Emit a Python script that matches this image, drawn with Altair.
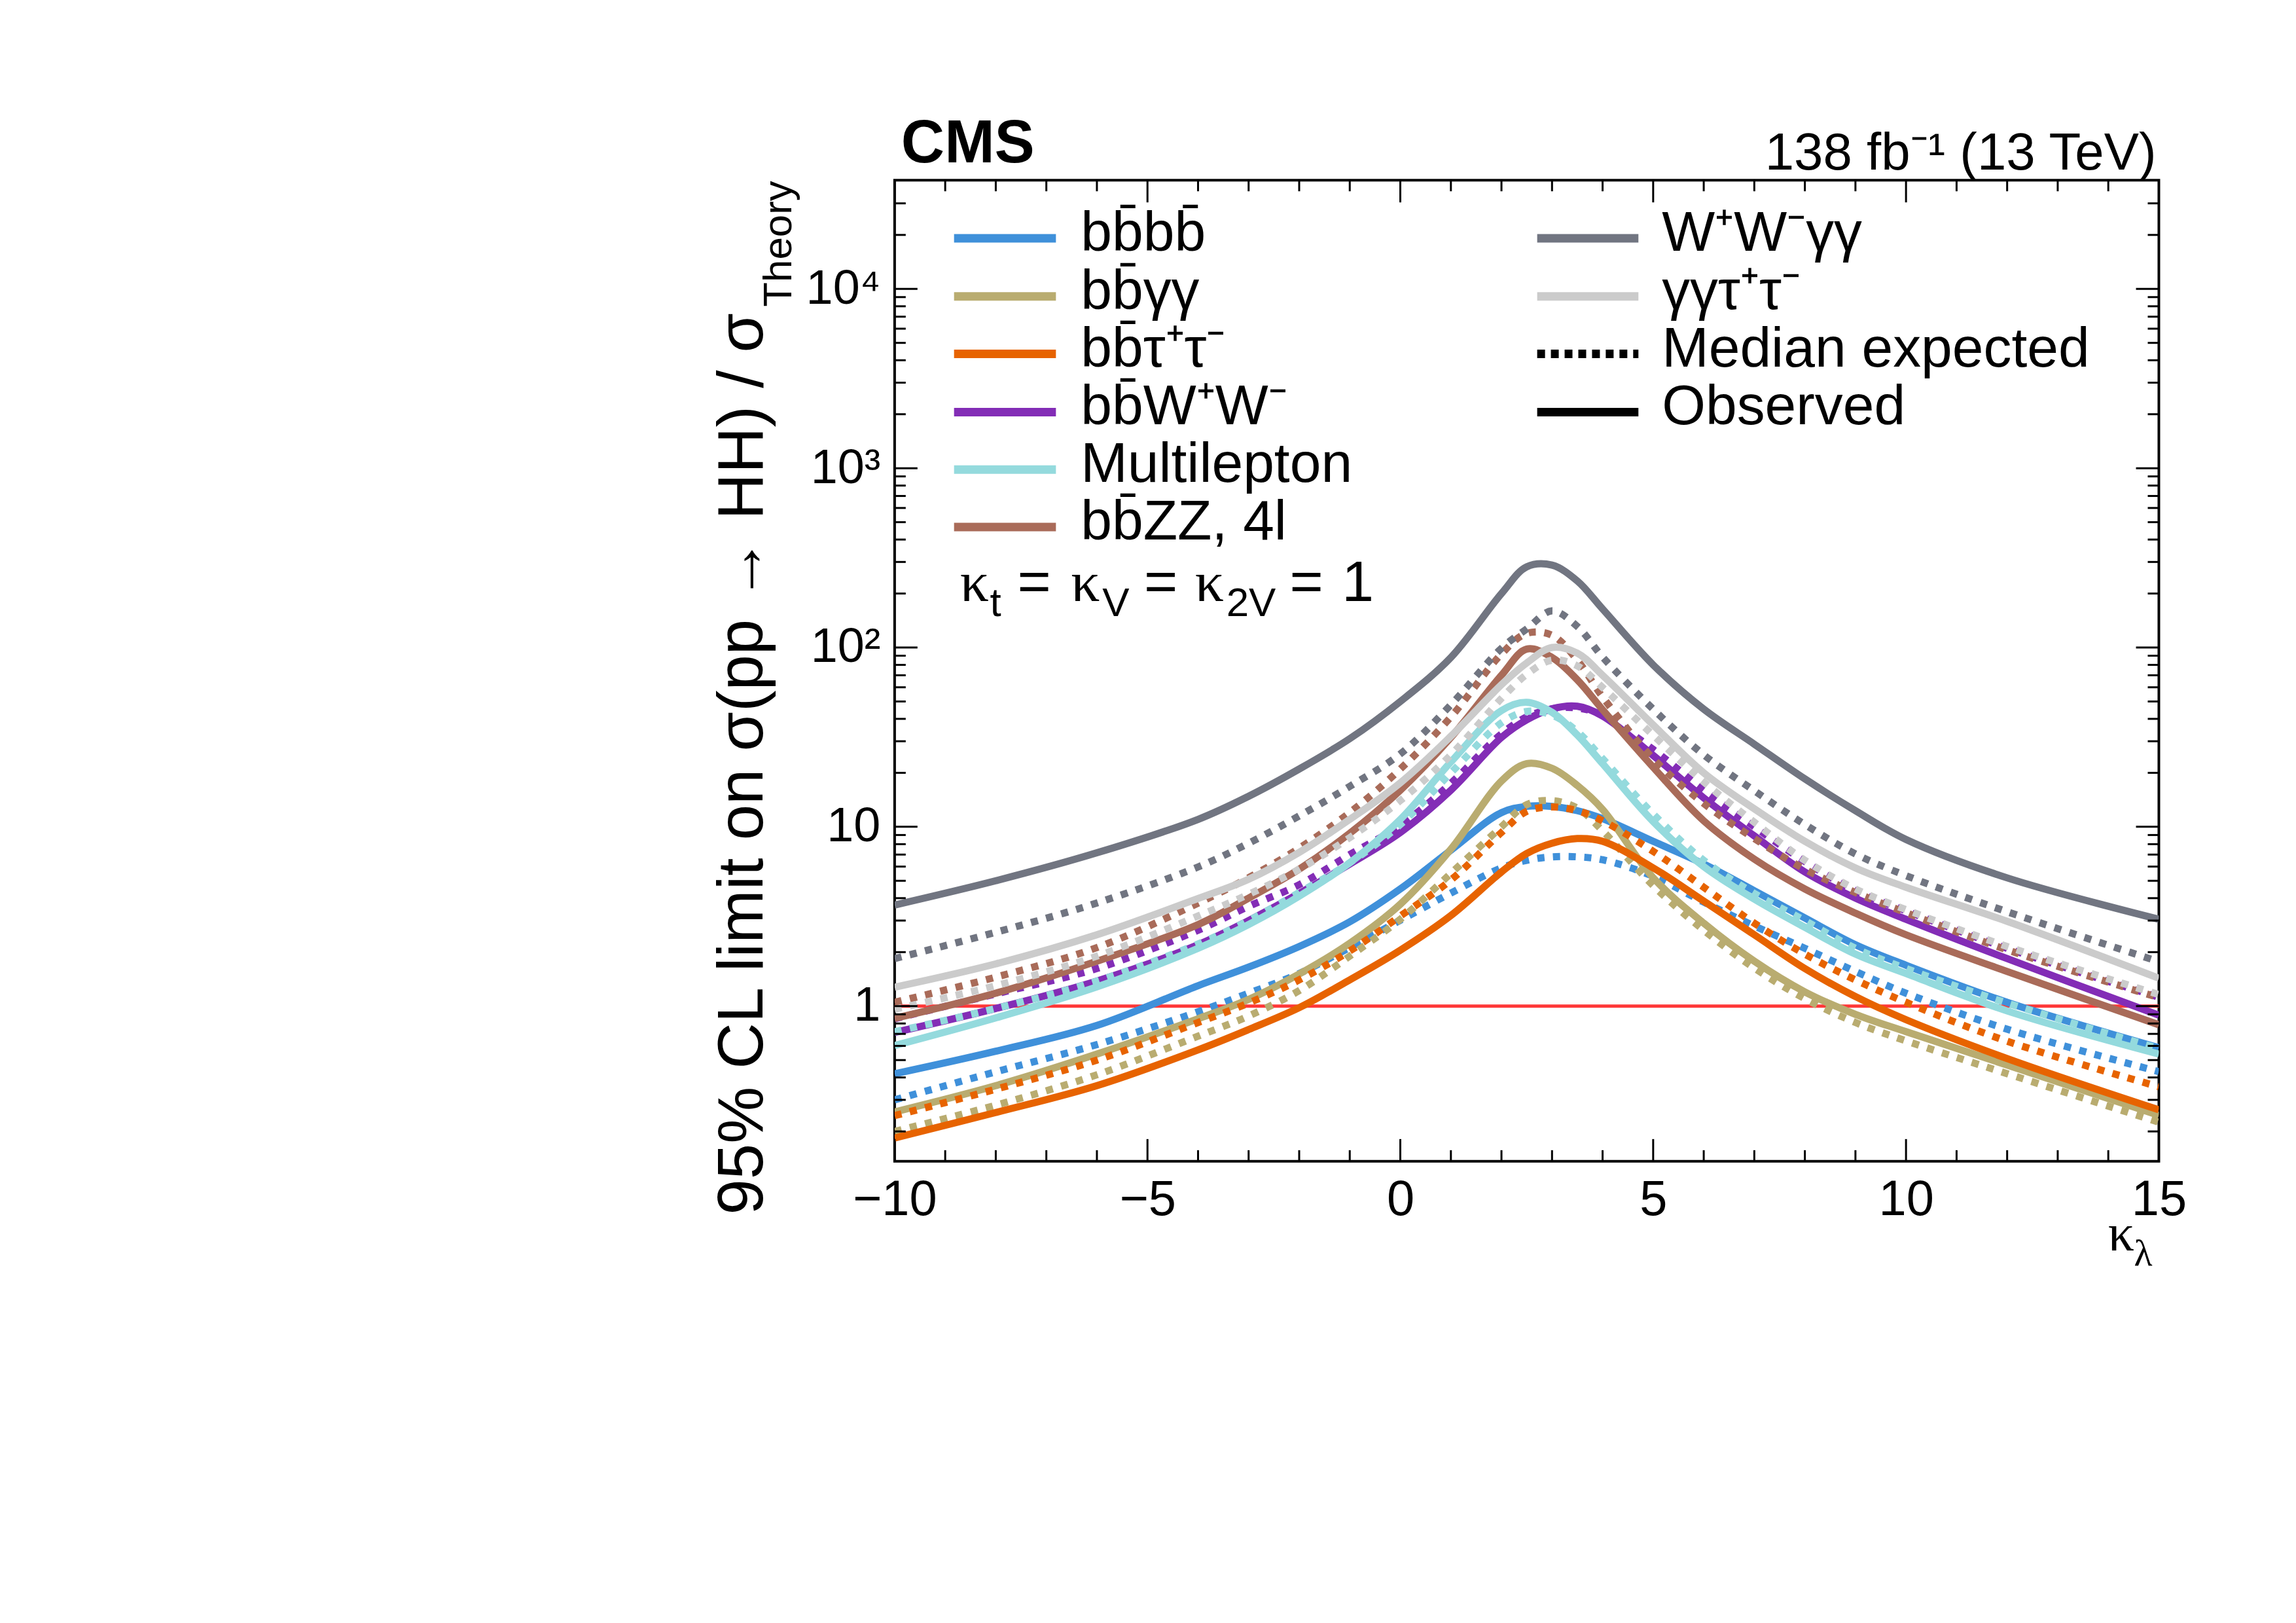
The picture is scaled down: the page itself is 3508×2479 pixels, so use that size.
import altair as alt
import pandas as pd

# ---------------- data ----------------
KAPPA = [-10, -8, -6, -4, -3, -2, -1, 0, 1, 2, 2.5, 3, 3.5, 4, 5, 6, 7, 8, 9, 10, 12, 15]

BBBB_OBS = [0.419, 0.56, 0.78, 1.30, 1.65, 2.15, 2.95, 4.5, 7.4, 12.0, 13.0, 13.0, 12.3, 11.1, 8.3, 6.2, 4.4, 3.1, 2.2, 1.69, 1.05, 0.586]
BBBB_EXP = [0.30, 0.43, 0.61, 0.93, 1.18, 1.52, 2.12, 3.01, 4.27, 5.9, 6.5, 6.8, 6.8, 6.55, 5.3, 3.8, 2.8, 2.1, 1.56, 1.18, 0.743, 0.431]
BBGG_OBS = [0.257, 0.36, 0.54, 0.85, 1.09, 1.51, 2.24, 3.7, 7.5, 18.0, 22.5, 21.2, 17.0, 12.5, 5.2, 2.9, 1.78, 1.2, 0.9, 0.72, 0.469, 0.246]
BBGG_EXP = [0.20, 0.28, 0.414, 0.68, 0.88, 1.22, 1.90, 3.05, 5.5, 10.0, 13.3, 14.0, 12.7, 9.5, 4.7, 2.65, 1.63, 1.10, 0.81, 0.64, 0.42, 0.225]
BBTT_OBS = [0.184, 0.255, 0.36, 0.57, 0.74, 0.98, 1.40, 2.05, 3.2, 5.6, 7.1, 8.1, 8.6, 8.3, 5.9, 3.85, 2.5, 1.62, 1.13, 0.84, 0.51, 0.264]
BBTT_EXP = [0.245, 0.344, 0.50, 0.81, 1.04, 1.40, 2.03, 3.18, 5.05, 9.3, 12.2, 12.9, 12.3, 10.8, 7.3, 4.6, 2.9, 1.95, 1.4, 1.05, 0.637, 0.355]
BBWW_OBS = [0.713, 0.97, 1.38, 2.2, 3.0, 4.25, 6.2, 9.3, 16.0, 31.5, 39.5, 45.5, 47.0, 41.5, 25.0, 14.5, 8.9, 5.6, 4.0, 3.05, 1.84, 0.89]
BBWW_EXP = [0.85, 1.17, 1.62, 2.65, 3.6, 4.75, 7.0, 10.2, 17.5, 33.0, 41.0, 45.5, 46.0, 42.0, 27.0, 16.0, 10.0, 6.4, 4.4, 3.4, 2.1, 1.12]
MULTI_OBS = [0.603, 0.86, 1.28, 2.1, 2.85, 4.1, 6.3, 11.0, 23.0, 44.5, 49.5, 43.5, 32.5, 22.5, 10.7, 6.0, 3.95, 2.75, 1.95, 1.52, 0.94, 0.54]
MULTI_EXP = [0.72, 0.97, 1.38, 2.22, 3.0, 4.3, 6.3, 10.3, 20.0, 38.0, 44.0, 42.0, 34.0, 24.0, 11.8, 6.5, 4.25, 3.0, 2.1, 1.62, 1.04, 0.58]
BBZZ_OBS = [0.855, 1.18, 1.78, 2.85, 4.0, 5.8, 9.2, 16.0, 31.5, 70.0, 98.0, 88.0, 66.0, 45.0, 21.5, 10.8, 6.6, 4.5, 3.3, 2.5, 1.56, 0.787]
BBZZ_EXP = [1.05, 1.45, 2.12, 3.75, 5.2, 7.6, 12.0, 21.0, 41.0, 92.0, 120.0, 117.0, 85.0, 53.0, 24.0, 13.5, 8.6, 5.8, 4.3, 3.32, 2.06, 1.115]
WWGG_OBS = [3.66, 5.0, 7.16, 11.0, 14.8, 21.0, 31.0, 50.0, 88.0, 200.0, 282.0, 288.0, 235.0, 164.0, 80.0, 45.3, 28.9, 18.5, 12.3, 8.5, 5.19, 3.05]
WWGG_EXP = [1.84, 2.58, 3.76, 5.97, 8.1, 11.5, 16.8, 25.5, 47.9, 99.0, 127.0, 160.0, 131.0, 88.5, 45.3, 25.2, 15.9, 10.3, 7.06, 5.34, 3.36, 1.77]
GGTT_OBS = [1.275, 1.72, 2.5, 3.98, 5.1, 7.2, 11.0, 17.6, 32.0, 62.0, 82.0, 100.0, 93.0, 70.0, 37.0, 20.0, 12.6, 8.3, 5.9, 4.6, 2.97, 1.43]
GGTT_EXP = [0.96, 1.30, 1.90, 3.18, 4.2, 5.8, 8.7, 14.0, 25.2, 52.0, 70.8, 85.0, 79.0, 59.8, 32.4, 17.8, 10.6, 6.5, 4.5, 3.45, 2.15, 1.16]

CHANNELS = ["bb\u0304bb\u0304", "bb\u0304\u03b3\u03b3", "bb\u0304\u03c4\u207a\u03c4\u207b", "bb\u0304W\u207aW\u207b",
            "Multilepton", "bb\u0304ZZ, 4l", "W\u207aW\u207b\u03b3\u03b3", "\u03b3\u03b3\u03c4\u207a\u03c4\u207b"]
COLORS = ["#3f90da", "#b9ac70", "#e76300", "#832db6", "#94dadd", "#a96b59", "#717581", "#cbcbcb"]
EXPECTED = [BBBB_EXP, BBGG_EXP, BBTT_EXP, BBWW_EXP, MULTI_EXP, BBZZ_EXP, WWGG_EXP, GGTT_EXP]
OBSERVED = [BBBB_OBS, BBGG_OBS, BBTT_OBS, BBWW_OBS, MULTI_OBS, BBZZ_OBS, WWGG_OBS, GGTT_OBS]

X_MAJOR = [-10, -5, 0, 5, 10, 15]
X_MINOR = [k for k in range(-9, 15) if k % 5 != 0]
Y_MAJOR = [1, 10, 100, 1000, 10000]
Y_LABELS = ["1", "10", "10\u00b2", "10\u00b3", "10\u2074"]
YMIN, YMAX = 0.1363, 40400.0
Y_MINOR = [m * 10.0 ** e for e in range(-1, 5) for m in range(2, 10) if YMIN < m * 10.0 ** e < YMAX * 0.9]

# ---------------- layout / style ----------------
W, H = 1936, 1502
FONT = "Liberation Sans"
SERIF = "Liberation Serif"
LW = 11
DASH = [11, 13]

xscale = alt.Scale(domain=[-10, 15], nice=False, zero=False)
yscale = alt.Scale(type="log", domain=[YMIN, YMAX], nice=False)
label_expr = " : ".join(f"datum.value == {v} ? '{l}'" for v, l in zip(Y_MAJOR, Y_LABELS)) + " : ''"
xaxis = alt.Axis(values=X_MAJOR, ticks=False, domain=False, grid=False, labelFont=FONT,
                 labelFontSize=76, labelColor="black", labelPadding=22, title=None,
                 labelFlush=False, labelOverlap=False)
yaxis = alt.Axis(values=Y_MAJOR, labelExpr=label_expr, ticks=False, domain=False, grid=False,
                 labelFont=FONT, labelFontSize=74, labelColor="black", labelPadding=22,
                 title=None, labelOverlap=False)


def X(field="k"):
    return alt.X(f"{field}:Q", scale=xscale, axis=xaxis)


def Y(field="v"):
    return alt.Y(f"{field}:Q", scale=yscale, axis=yaxis)


layers = []

# reference line at 1
layers.append(alt.Chart(pd.DataFrame({"k": [-10], "k2": [15], "v": [1]}))
              .mark_rule(color="#ff3838", strokeWidth=5)
              .encode(x=X(), x2="k2:Q", y=Y()))

# limit curves
for name, col, exp, obs in zip(CHANNELS, COLORS, EXPECTED, OBSERVED):
    dfe = pd.DataFrame({"k": KAPPA, "v": exp})
    dfo = pd.DataFrame({"k": KAPPA, "v": obs})
    layers.append(alt.Chart(dfe).mark_line(color=col, strokeWidth=LW, strokeDash=DASH,
                                           strokeCap="butt", interpolate="catmull-rom", clip=True)
                  .encode(x=X(), y=Y()))
    layers.append(alt.Chart(dfo).mark_line(color=col, strokeWidth=LW, strokeCap="butt",
                                           interpolate="catmull-rom", clip=True)
                  .encode(x=X(), y=Y()))

# ticks (inside the frame, on all four sides)
TW = 3
for ticks, ln in ((X_MAJOR, 34), (X_MINOR, 17)):
    d = pd.DataFrame({"k": ticks})
    layers.append(alt.Chart(d).mark_rule(color="black", strokeWidth=TW)
                  .encode(x=X(), y=alt.value(H), y2=alt.value(H - ln)))
    layers.append(alt.Chart(d).mark_rule(color="black", strokeWidth=TW)
                  .encode(x=X(), y=alt.value(0), y2=alt.value(ln)))
for ticks, ln in ((Y_MAJOR, 35), (Y_MINOR, 17)):
    d = pd.DataFrame({"v": ticks})
    layers.append(alt.Chart(d).mark_rule(color="black", strokeWidth=TW)
                  .encode(y=Y(), x=alt.value(0), x2=alt.value(ln)))
    layers.append(alt.Chart(d).mark_rule(color="black", strokeWidth=TW)
                  .encode(y=Y(), x=alt.value(W), x2=alt.value(W - ln)))

DUMMY = pd.DataFrame({"d": [0]})


def txt(s, x, y, size, font=FONT, angle=0, align="left", weight="normal"):
    return (alt.Chart(DUMMY)
            .mark_text(text=s, font=font, fontSize=size, angle=angle, align=align,
                       baseline="alphabetic", fontWeight=weight, color="black")
            .encode(x=alt.value(x), y=alt.value(y)))


def seg(x1, x2, y, color, width, dash=None):
    kw = dict(color=color, strokeWidth=width, strokeCap="butt")
    if dash:
        kw["strokeDash"] = dash
    return (alt.Chart(DUMMY).mark_rule(**kw)
            .encode(x=alt.value(x1), x2=alt.value(x2), y=alt.value(y), y2=alt.value(y)))


# legend
LEG_FS = 86
LEG_LW = 13
ROWS = [89, 178, 266, 355, 443, 531]
for i in range(6):
    layers.append(seg(91, 247, ROWS[i], COLORS[i], LEG_LW))
    layers.append(txt(CHANNELS[i], 285, ROWS[i] + 19, LEG_FS))
for j, i in enumerate([6, 7]):
    layers.append(seg(984, 1139, ROWS[j], COLORS[i], LEG_LW))
    layers.append(txt(CHANNELS[i], 1175, ROWS[j] + 19, LEG_FS))
layers.append(seg(984, 1139, ROWS[2], "black", LEG_LW, [12, 9]))
layers.append(txt("Median expected", 1175, ROWS[2] + 19, LEG_FS))
layers.append(seg(984, 1139, ROWS[3], "black", LEG_LW))
layers.append(txt("Observed", 1175, ROWS[3] + 19, LEG_FS))

# coupling text
layers.append(txt("\u03ba", 100, 644, 88, font=SERIF))
layers.append(txt("t", 146, 667, 62))
layers.append(txt("=", 188, 644, 88))
layers.append(txt("\u03ba", 270, 644, 88, font=SERIF))
layers.append(txt("V", 318, 667, 62))
layers.append(txt("=", 382, 644, 88))
layers.append(txt("\u03ba", 460, 644, 88, font=SERIF))
layers.append(txt("2V", 508, 667, 62))
layers.append(txt("=", 605, 644, 88))
layers.append(txt("1", 685, 644, 88))

# headers
layers.append(txt("CMS", 10, -27, 92, weight="bold"))
layers.append(txt("138 fb\u207b\u00b9 (13 TeV)", W - 4, -16, 80, align="right"))

# axis titles
layers.append(txt("\u03ba", 1858, 1639, 80, font=SERIF))
layers.append(txt("\u03bb", 1898, 1662, 58, font=SERIF))
layers.append(txt("95% CL limit on \u03c3(pp \u2192 HH) / \u03c3", -202, 1584, 98, angle=270))
layers.append(txt("Theory", -158, 194, 62, angle=270))

chart = (alt.layer(*layers)
         .properties(width=W, height=H,
                     autosize=alt.AutoSizeParams(type="none"),
                     padding={"left": 1362, "top": 265, "right": 202, "bottom": 690},
                     background="white")
         .configure_view(stroke="black", strokeWidth=4))

chart.save("out.html", embed_options={"renderer": "svg", "actions": False})
